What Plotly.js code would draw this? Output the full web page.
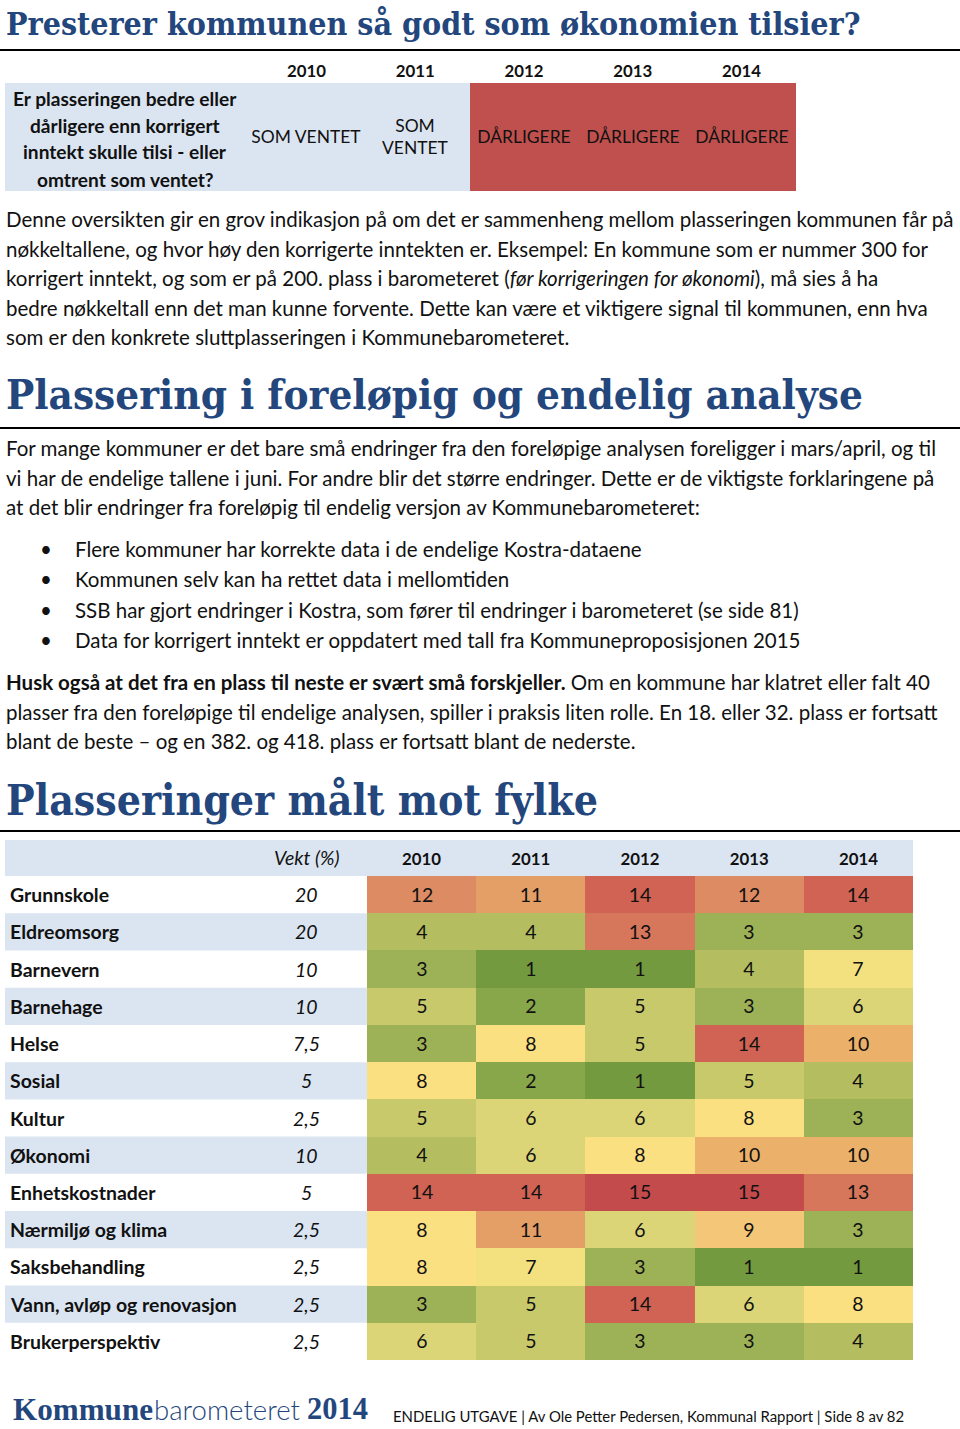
<!DOCTYPE html>
<html>
<head>
<meta charset="utf-8">
<script src="https://cdn.plot.ly/plotly-3.0.1.min.js"></script>
<style>html,body{margin:0;padding:0;background:#fff}#page{width:960px;height:1429px}</style>
</head>
<body>
<div id="page"></div>
<script>
// ---------- DATA ----------
const topYears = ['2010', '2011', '2012', '2013', '2014'];
const topStatus = ['SOM VENTET', 'SOM VENTET', 'DÅRLIGERE', 'DÅRLIGERE', 'DÅRLIGERE'];
const topStatusText = ['SOM VENTET', 'SOM<br>VENTET', 'DÅRLIGERE', 'DÅRLIGERE', 'DÅRLIGERE'];
const topQuestion = ['Er plasseringen bedre eller', 'dårligere enn korrigert', 'inntekt skulle tilsi - eller', 'omtrent som ventet?'];

const years = ['2010', '2011', '2012', '2013', '2014'];
const sectors = ['Grunnskole', 'Eldreomsorg', 'Barnevern', 'Barnehage', 'Helse', 'Sosial', 'Kultur',
  'Økonomi', 'Enhetskostnader', 'Nærmiljø og klima', 'Saksbehandling', 'Vann, avløp og renovasjon', 'Brukerperspektiv'];
const weights = ['20', '20', '10', '10', '7,5', '5', '2,5', '10', '5', '2,5', '2,5', '2,5', '2,5'];
const rank2010 = [12, 4, 3, 5, 3, 8, 5, 4, 14, 8, 8, 3, 6];
const rank2011 = [11, 4, 1, 2, 8, 2, 6, 6, 14, 11, 7, 5, 5];
const rank2012 = [14, 13, 1, 5, 5, 1, 6, 8, 15, 6, 3, 14, 3];
const rank2013 = [12, 3, 4, 3, 14, 5, 8, 10, 15, 9, 1, 6, 3];
const rank2014 = [14, 3, 7, 6, 10, 4, 3, 10, 13, 3, 1, 8, 4];

const para1 = [
  'Denne oversikten gir en grov indikasjon på om det er sammenheng mellom plasseringen kommunen får på',
  'nøkkeltallene, og hvor høy den korrigerte inntekten er. Eksempel: En kommune som er nummer 300 for',
  'korrigert inntekt, og som er på 200. plass i barometeret (<i>før korrigeringen for økonomi</i>), må sies å ha',
  'bedre nøkkeltall enn det man kunne forvente. Dette kan være et viktigere signal til kommunen, enn hva',
  'som er den konkrete sluttplasseringen i Kommunebarometeret.'
];
const para2 = [
  'For mange kommuner er det bare små endringer fra den foreløpige analysen foreligger i mars/april, og til',
  'vi har de endelige tallene i juni. For andre blir det større endringer. Dette er de viktigste forklaringene på',
  'at det blir endringer fra foreløpig til endelig versjon av Kommunebarometeret:'
];
const bullets = [
  'Flere kommuner har korrekte data i de endelige Kostra-dataene',
  'Kommunen selv kan ha rettet data i mellomtiden',
  'SSB har gjort endringer i Kostra, som fører til endringer i barometeret (se side 81)',
  'Data for korrigert inntekt er oppdatert med tall fra Kommuneproposisjonen 2015'
];
const para3 = [
  '<b>Husk også at det fra en plass til neste er svært små forskjeller.</b> Om en kommune har klatret eller falt 40',
  'plasser fra den foreløpige til endelige analysen, spiller i praksis liten rolle. En 18. eller 32. plass er fortsatt',
  'blant de beste – og en 382. og 418. plass er fortsatt blant de nederste.'
];
const head1 = 'Presterer kommunen så godt som økonomien tilsier?';
const head2 = 'Plassering i foreløpig og endelig analyse';
const head3 = 'Plasseringer målt mot fylke';
const footerText = 'ENDELIG UTGAVE | Av Ole Petter Pedersen, Kommunal Rapport | Side 8 av 82';

// ---------- STYLE ----------
const W = 960, H = 1429;
const BODY = 'Lato';
const HEAD = '"DejaVu Serif Condensed", "Liberation Serif", serif';
const LOGO = 'Liberation Serif';
const NAVY = '#23467d', LIGHT = '#dbe5f1', RED = '#c0504d', INK = '#111111';
const P = x => x / W, Q = y => 1 - y / H;

const ctx = document.createElement('canvas').getContext('2d');
function tw(text, size, weight, style, fam) {
  const f = fam.indexOf('"') >= 0 ? fam : `"${fam}"`;
  ctx.font = `${style || 'normal'} ${weight || 'normal'} ${size}px ${f}`;
  return ctx.measureText(text.replace(/<[^>]+>/g, '')).width;
}
function fit(text, target, weight, style, fam) { return 40 * target / tw(text, 40, weight, style, fam); }

const bodySize = fit(para1[0], 950, 'normal', 'normal', BODY);
const h1Size = fit(head1, 855, 'bold', 'normal', HEAD);
const h2Size = fit(head2, 857, 'bold', 'normal', HEAD);
const h3Size = fit(head3, 592, 'bold', 'normal', HEAD);
const qSize = fit(topQuestion[0], 224, 'bold', 'normal', BODY);
const cellSize = fit('SOM VENTET', 110, 'normal', 'normal', BODY);
const yearSize = fit('2010', 39, 'bold', 'normal', BODY);
const rowSize = fit('Vann, avløp og renovasjon', 226, 'bold', 'normal', BODY);
const footSize = fit(footerText, 513, 'normal', 'normal', BODY);
const logo1 = fit('Kommune', 140, '900', 'normal', LOGO);
const logo2 = fit('barometeret', 146, '300', 'normal', BODY);
const logo3 = fit('2014', 61, 'bold', 'normal', LOGO);

const ann = [];
function txt(text, x, y, size, opts) {
  opts = opts || {};
  ann.push({
    text: text, xref: 'paper', yref: opts.yref || 'paper',
    x: P(x), y: opts.yref ? y : Q(y),
    xanchor: opts.xanchor || 'left', yanchor: 'middle', showarrow: false,
    align: opts.align || 'left',
    font: { family: opts.fam || BODY, size: size, color: opts.color || INK, weight: opts.weight || 'normal', style: opts.style || 'normal' }
  });
}

// headings
txt(head1, 4, 24, h1Size, { fam: HEAD, color: NAVY, weight: 'bold' });
txt(head2, 4, 394, h2Size, { fam: HEAD, color: NAVY, weight: 'bold' });
txt(head3, 4, 800, h3Size, { fam: HEAD, color: NAVY, weight: 'bold' });

// top-table question
const qY = [98, 125, 152, 179];
topQuestion.forEach((t, i) => txt(t, 125, qY[i], qSize, { weight: 'bold', xanchor: 'center', align: 'center' }));

// paragraphs
const p1Y = [219, 249, 278, 308, 337];
para1.forEach((t, i) => txt(t, 4, p1Y[i], bodySize));
const p2Y = [448, 478, 507];
para2.forEach((t, i) => txt(t, 4, p2Y[i], bodySize));
const bY = [549, 579, 610, 640];
bullets.forEach((t, i) => { txt('•', 38, bY[i], bodySize); txt(t, 73, bY[i], bodySize); });
const p3Y = [682, 712, 741];
para3.forEach((t, i) => txt(t, 4, p3Y[i], bodySize));

// bottom table labels
txt('<i>Vekt (%)</i>', 341, 857, rowSize, { xanchor: 'right' });
sectors.forEach((s, i) => {
  txt(s, 8, i, rowSize, { yref: 'y2', weight: 'bold' });
  txt('<i>' + weights[i] + '</i>', 306, i, rowSize, { yref: 'y2', xanchor: 'center' });
});

// footer
txt('Kommune', 11, 1409, logo1, { fam: LOGO, color: NAVY, weight: '900' });
txt('barometeret', 152, 1409, logo2, { color: NAVY, weight: '300' });
txt('2014', 305, 1409, logo3, { fam: LOGO, color: NAVY, weight: 'bold' });
txt(footerText, 391, 1416, footSize);

// ---------- SHAPES ----------
const shapes = [];
[50, 428, 831].forEach(y => shapes.push({ type: 'line', xref: 'paper', yref: 'paper', x0: 0, x1: 1, y0: Q(y), y1: Q(y), line: { color: '#000', width: 2 } }));
shapes.push({ type: 'rect', xref: 'paper', yref: 'y', x0: P(5), x1: P(252), y0: -0.5, y1: 0.5, fillcolor: LIGHT, line: { width: 0 }, layer: 'below' });
shapes.push({ type: 'rect', xref: 'paper', yref: 'paper', x0: P(5), x1: P(913), y0: Q(876), y1: Q(840), fillcolor: LIGHT, line: { width: 0 }, layer: 'below' });
sectors.forEach((s, i) => {
  if (i % 2 === 1) shapes.push({ type: 'rect', xref: 'paper', yref: 'y2', x0: P(5), x1: P(367), y0: i - 0.5, y1: i + 0.5, fillcolor: LIGHT, line: { width: 0 }, layer: 'below' });
});

// ---------- TRACES ----------
const topTrace = {
  type: 'heatmap', xaxis: 'x', yaxis: 'y',
  x: topYears, y: [0],
  z: [topStatus.map(s => s === 'DÅRLIGERE' ? 1 : 0)],
  text: [topStatusText], texttemplate: '%{text}',
  textfont: { family: BODY, size: cellSize, color: INK },
  zmin: 0, zmax: 1, showscale: false, hoverinfo: 'skip',
  colorscale: [[0, LIGHT], [0.5, LIGHT], [0.5, RED], [1, RED]]
};
const rankCols = [rank2010, rank2011, rank2012, rank2013, rank2014];
const zRank = sectors.map((s, i) => rankCols.map(col => col[i]));
const rankTrace = {
  type: 'heatmap', xaxis: 'x2', yaxis: 'y2',
  x: years, y: sectors.map((s, i) => i), z: zRank,
  texttemplate: '%{z}', textfont: { family: BODY, size: rowSize, color: INK },
  zmin: 1, zmax: 15, showscale: false, hoverinfo: 'skip', xgap: 0, ygap: 0,
  colorscale: [
    [0, '#739a3e'], [1 / 14, '#88a64a'], [2 / 14, '#9db156'], [3 / 14, '#b4be60'], [4 / 14, '#c8c96b'],
    [5 / 14, '#dbd578'], [6 / 14, '#f3e07e'], [7 / 14, '#fbe082'], [8 / 14, '#f3c777'], [9 / 14, '#ebb16a'],
    [10 / 14, '#e49f66'], [11 / 14, '#dd8b62'], [12 / 14, '#d6765b'], [13 / 14, '#d06353'], [1, '#c34b4c']
  ]
};

const hiddenY = { showticklabels: false, ticks: '', showgrid: false, zeroline: false, showline: false, fixedrange: true, visible: false };
const layout = {
  width: W, height: H, margin: { l: 0, r: 0, t: 0, b: 0 },
  paper_bgcolor: '#fff', plot_bgcolor: 'rgba(0,0,0,0)', showlegend: false,
  xaxis: { domain: [P(252), P(796)], anchor: 'y', type: 'category', side: 'top', showgrid: false, zeroline: false, showline: false, ticks: '',
    tickfont: { family: BODY, size: yearSize, color: INK, weight: 'bold' }, ticklabelstandoff: 2, fixedrange: true },
  yaxis: Object.assign({ domain: [Q(191), Q(83)], anchor: 'x', range: [-0.5, 0.5] }, hiddenY),
  xaxis2: { domain: [P(367), P(913)], anchor: 'y2', type: 'category', side: 'top', showgrid: false, zeroline: false, showline: false, ticks: '',
    tickfont: { family: BODY, size: yearSize, color: INK, weight: 'bold' }, ticklabelstandoff: 7, fixedrange: true },
  yaxis2: Object.assign({ domain: [Q(1360), Q(876)], anchor: 'x2', range: [sectors.length - 0.5, -0.5] }, hiddenY),
  shapes: shapes, annotations: ann
};

Plotly.newPlot('page', [topTrace, rankTrace], layout, { displayModeBar: false, staticPlot: true });
</script>
</body>
</html>
